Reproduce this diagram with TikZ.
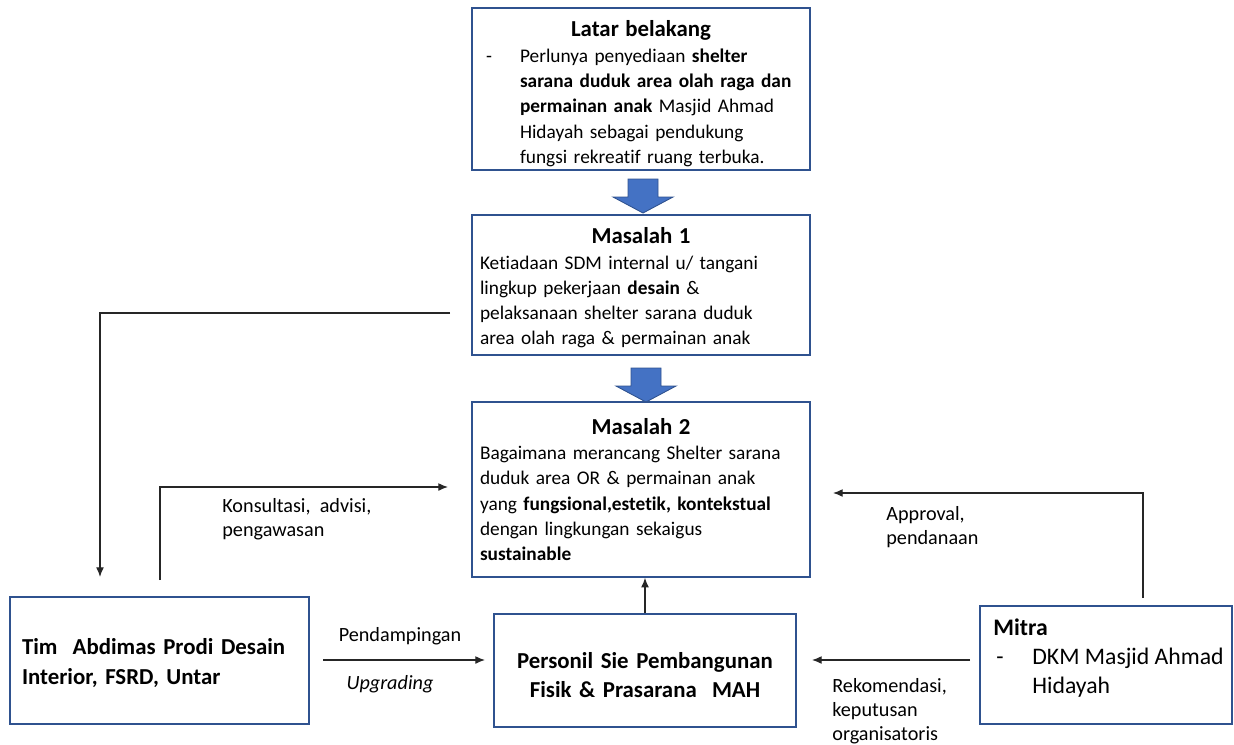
\documentclass[tikz,border=0pt]{standalone}
\usepackage{fontspec}
\setmainfont{Carlito}[Ligatures=NoCommon]
\usetikzlibrary{positioning,arrows.meta,calc}

\definecolor{boxblue}{RGB}{47,82,143}
\definecolor{arrowblue}{RGB}{68,114,196}

\newcommand{\bodysize}{\fontsize{11}{14.4}\selectfont}
\newcommand{\lblsize}{\fontsize{11.5}{13.6}\selectfont}
\newcommand{\headsize}{\fontsize{13}{15}\selectfont\bfseries}
\newcommand{\bigsize}{\fontsize{13}{16.6}\selectfont}
\newcommand{\downblock}[1]{\filldraw[bigarrow] #1 ++(-15,0) -- ++(30,0) -- ++(0,18) -- ++(15,0) -- ++(-30,16) -- ++(-30,-16) -- ++(15,0) -- cycle;}

\tikzset{
  box/.style={draw=boxblue, line width=0.85pt, rectangle, inner ysep=0pt},
  probbox/.style={box, text width=6.44cm, inner xsep=0.16cm, align=left, font=\bodysize},
  conn/.style={draw=black!85, line width=0.7pt, -{Latex[length=5.5pt,width=4.5pt]}},
  lbl/.style={font=\lblsize, align=left, inner sep=0pt},
  bigarrow/.style={fill=arrowblue, draw=boxblue, line width=0.5pt}
}

\begin{document}
\begin{tikzpicture}[x=0.02cm,y=-0.02cm]
\useasboundingbox (0,0) rectangle (1234,744);

% boxes in the middle column
\node[probbox, minimum height=3.24cm] (latar) at (641,89) {\makebox[\linewidth]{\headsize\rule{0pt}{14.5pt}Latar belakang}\\
\makebox[0.8cm][l]{\hspace{0.12cm}-}Perlunya penyediaan \textbf{shelter}\\
\hspace*{0.8cm}\textbf{sarana duduk area olah raga dan}\\
\hspace*{0.8cm}\textbf{permainan anak} Masjid Ahmad\\
\hspace*{0.8cm}Hidayah sebagai pendukung\\
\hspace*{0.8cm}fungsi rekreatif ruang terbuka.};
\node[probbox, minimum height=2.80cm] (masalah1) at (641,285) {\makebox[\linewidth]{\headsize\rule{0pt}{12.5pt}Masalah 1}\\
Ketiadaan SDM internal u/ tangani\\
lingkup pekerjaan \textbf{desain} \&\\
pelaksanaan shelter sarana duduk\\
area olah raga \& permainan anak};
\node[probbox, minimum height=3.50cm] (masalah2) at (641,489.5) {\makebox[\linewidth]{\headsize Masalah 2}\\
Bagaimana merancang Shelter sarana\\
duduk area OR \& permainan anak\\
yang \textbf{fungsional,estetik, kontekstual}\\
dengan lingkungan sekaigus\\
\textbf{sustainable}};

% bottom row
\node[box, text width=5.5cm, inner xsep=0.24cm, minimum height=2.54cm, align=left, font=\bigsize\bfseries] (tim) at (159.5,660.5) {\rule{0pt}{12pt}Tim\ \ Abdimas Prodi Desain\\ Interior, FSRD, Untar};
\node[box, text width=5.6cm, inner xsep=0.22cm, minimum height=2.26cm, align=center, font=\bigsize\bfseries] (personil) at (645,670.5) {\rule{0pt}{14pt}Personil Sie Pembangunan\\ Fisik \& Prasarana\ \ MAH};
\node[box, minimum width=5.04cm, minimum height=2.36cm] (mitra) at (1106,665) {};
\node[lbl, anchor=west, font=\fontsize{13.5}{16.4}\selectfont] (mitratxt) at (993,658) {\textbf{Mitra}\\
\makebox[0.78cm][l]{\hspace{0.06cm}-}DKM Masjid Ahmad\\
\hspace*{0.78cm}Hidayah};

% block arrows
\downblock{(643,179)}
\downblock{(646,368)}

% connectors
\coordinate (m1out) at (450,313);
\coordinate (timin) at (100,577);
\coordinate (timout) at (160,580);
\coordinate (m2inleft) at (448,487);
\coordinate (mitout) at (1143,598);
\coordinate (m2inright) at (833,493);
\coordinate (timright) at (323,660);
\coordinate (perleft) at (485,660);
\coordinate (mitleft) at (970,660);
\coordinate (perright) at (812,660);
\draw[conn] (m1out) -| (timin);
\draw[conn] (timout) |- (m2inleft);
\draw[conn] (mitout) |- (m2inright);
\draw[conn] (timright) -- (perleft);
\draw[conn] (mitleft) -- (perright);
\draw[conn] (personil.north) -- (personil.north |- masalah2.south);

% labels
\node[lbl, anchor=west] (konsul) at (222,519) {Konsultasi,\ \ advisi,\\ pengawasan};
\node[lbl, anchor=west] (approval) at (886,527.5) {Approval,\\ pendanaan};
\node[lbl] (pendamping) at (400,636) {Pendampingan};
\node[lbl] (upgrade) at (390,684) {\itshape Upgrading};
\node[lbl, anchor=west] (rekom) at (832,711) {Rekomendasi,\\ keputusan\\ organisatoris};
\end{tikzpicture}
\end{document}
